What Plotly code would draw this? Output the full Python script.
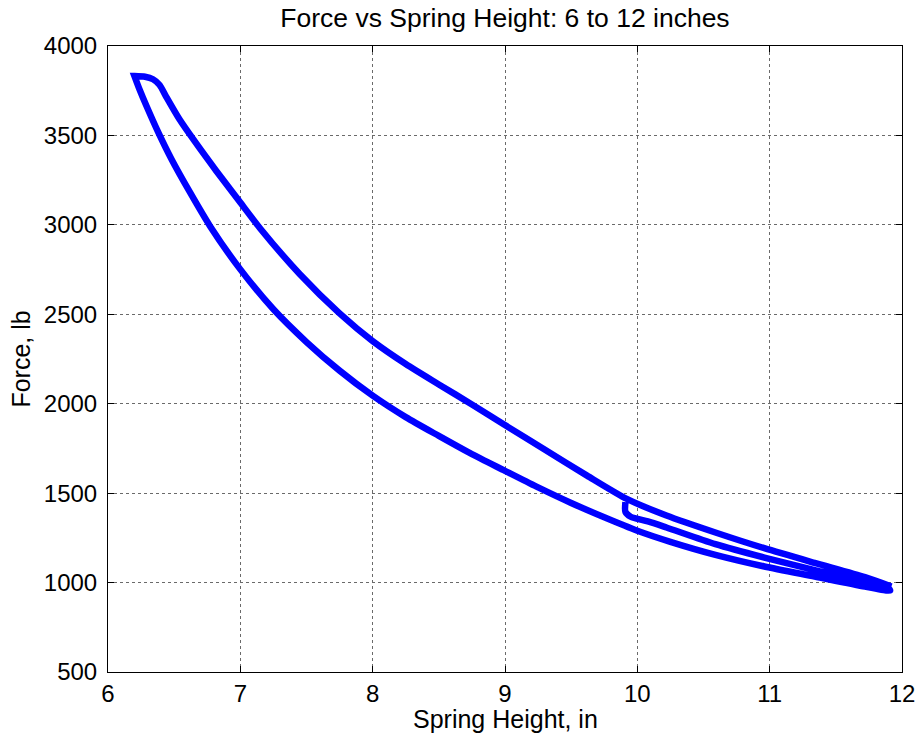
import plotly.graph_objects as go

# Spring height (in) and force (lb), traced as one continuous path
# segment 1: relaxation drop at ~9.9 in, then inner extension curve to 11.9 in
inner_x = [9.91, 9.91, 9.95, 10.08, 10.22, 10.59, 10.96, 11.34, 11.72, 11.90]
inner_y = [1450, 1395, 1368, 1342, 1308, 1215, 1140, 1070, 1002, 968]

# segment 2: lower branch, from 11.9 in back to 6.2 in
lower_x = [11.91, 11.72, 11.34, 10.96, 10.59, 10.25, 10.00, 9.75, 9.50, 9.25,
           9.00, 8.75, 8.50, 8.25, 8.00, 7.75, 7.50, 7.25, 7.00, 6.77, 6.62,
           6.48, 6.38, 6.29, 6.24, 6.20]
lower_y = [955, 978, 1034, 1090, 1155, 1228, 1290, 1365, 1445, 1532,
           1625, 1718, 1820, 1925, 2045, 2185, 2345, 2528, 2751, 2994, 3181,
           3367, 3517, 3666, 3754, 3832]

# segment 3: upper branch, from 6.2 in out to 11.9 in
upper_x = [6.20, 6.28, 6.34, 6.39, 6.44, 6.54, 6.66, 6.82, 7.00, 7.15, 7.45,
           7.75, 8.00, 8.25, 8.50, 8.75, 8.99, 9.29, 9.62, 9.92, 10.22, 10.59,
           10.96, 11.34, 11.72, 11.92]
upper_y = [3832, 3828, 3814, 3782, 3716, 3590, 3462, 3300, 3125, 2980, 2724,
           2505, 2350, 2222, 2108, 1996, 1885, 1748, 1598, 1468, 1375, 1280,
           1192, 1110, 1030, 978]

x_ticks = [6, 7, 8, 9, 10, 11, 12]
y_ticks = [500, 1000, 1500, 2000, 2500, 3000, 3500, 4000]

height_in = inner_x + lower_x + upper_x
force_lb = inner_y + lower_y + upper_y

fig = go.Figure()
fig.add_trace(go.Scatter(
    x=height_in, y=force_lb, mode="lines",
    line=dict(color="#0000FF", width=6.5, shape="spline", smoothing=0.7),
    showlegend=False, hoverinfo="skip",
))

font_family = "Liberation Sans, Arial, sans-serif"
axis_common = dict(
    showline=True, linecolor="black", linewidth=1, mirror="ticks",
    ticks="inside", ticklen=6, tickcolor="black", tickwidth=1,
    showgrid=True, gridcolor="#6a6a6a", griddash="dot", gridwidth=1,
    zeroline=False, automargin=False,
    tickfont=dict(family=font_family, size=24, color="black"),
)

fig.update_layout(
    width=920, height=740,
    margin=dict(l=108, r=18, t=46, b=68, autoexpand=False),
    paper_bgcolor="white", plot_bgcolor="white",
    title=dict(
        text="Force vs Spring Height: 6 to 12 inches",
        x=0.5, xref="paper", xanchor="center",
        y=1 - 18 / 740, yref="container", yanchor="middle",
        font=dict(family=font_family, size=26.5, color="black"),
    ),
    xaxis=dict(
        range=[6, 12], tickvals=x_ticks, ticktext=[str(v) for v in x_ticks],
        ticklabelstandoff=0,
        **axis_common,
    ),
    yaxis=dict(
        range=[500, 4000], tickvals=y_ticks, ticktext=[str(v) for v in y_ticks],
        ticklabelstandoff=5,
        title=dict(text="Force, lb", standoff=6,
                   font=dict(family=font_family, size=25, color="black")),
        **axis_common,
    ),
    annotations=[dict(
        text="Spring Height, in", showarrow=False,
        xref="paper", yref="paper", x=0.5, y=-47 / 626,
        xanchor="center", yanchor="middle",
        font=dict(family=font_family, size=25, color="black"),
    )],
)

fig.write_html("out.html")
